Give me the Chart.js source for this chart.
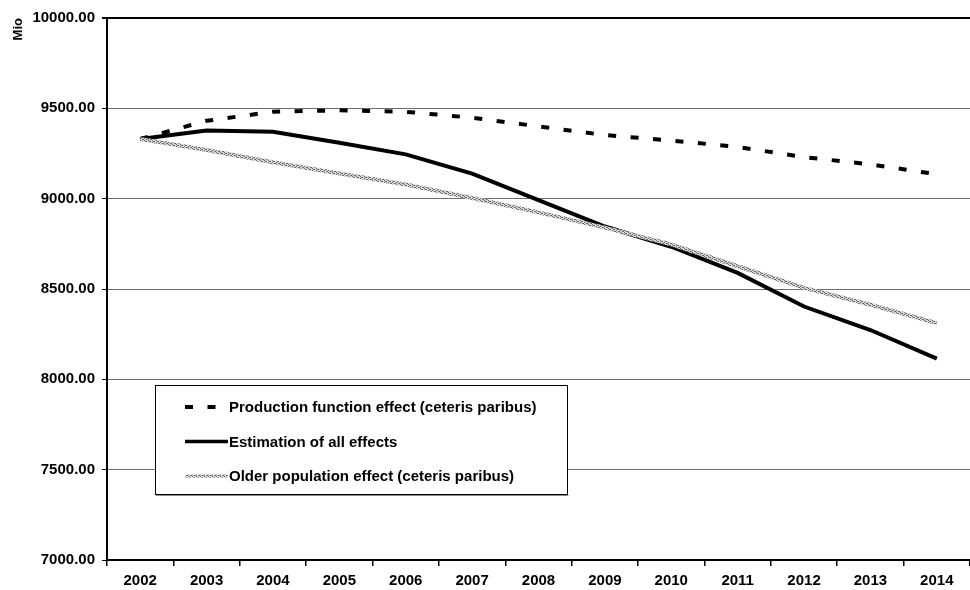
<!DOCTYPE html>
<html>
<head>
<meta charset="utf-8">
<script src="https://cdn.jsdelivr.net/npm/chart.js@4.4.1/dist/chart.umd.min.js"></script>
<style>
  html, body { margin: 0; padding: 0; background: #fff; }
  #wrap { width: 970px; height: 590px; position: relative; }
</style>
</head>
<body>
<div id="wrap"><canvas id="effectsChart"></canvas></div>
<script>
const years = ["2002", "2003", "2004", "2005", "2006", "2007", "2008", "2009", "2010", "2011", "2012", "2013", "2014"];
const productionEffect = [9330, 9431, 9481, 9489, 9481, 9448, 9400, 9352, 9322, 9286, 9230, 9190, 9135];
const allEffects = [9330, 9377, 9370, 9310, 9245, 9139, 8992, 8846, 8734, 8589, 8403, 8273, 8115];
const olderPopulation = [9330, 9269, 9202, 9139, 9078, 9004, 8924, 8840, 8747, 8626, 8506, 8413, 8311];
const yTicks = [7000, 7500, 8000, 8500, 9000, 9500, 10000];

const labelFont = { family: "'Liberation Sans', Arial, sans-serif", size: 15, weight: "bold" };

// light gray hatched stroke for the older population line
function hatchPattern() {
  const tile = document.createElement("canvas");
  tile.width = 4;
  tile.height = 4;
  const tctx = tile.getContext("2d");
  tctx.fillStyle = "#d6d6d6";
  tctx.fillRect(0, 0, 4, 4);
  tctx.fillStyle = "#6c6c6c";
  [[0, 0], [2, 1], [0, 2], [2, 3], [1, 1], [3, 3]].forEach(([x, y]) => tctx.fillRect(x, y, 1, 1));
  return tile.getContext("2d").createPattern(tile, "repeat");
}

const legendBox = {
  id: "legendBox",
  afterDatasetsDraw(chart) {
    const { ctx, chartArea } = chart;
    const left = chartArea.left + 48;
    const top = chartArea.top + 367;
    const width = 412;
    const height = 109;
    ctx.save();
    ctx.fillStyle = "#fff";
    ctx.fillRect(left, top, width, height);
    ctx.strokeStyle = "#000";
    ctx.lineWidth = 1;
    ctx.strokeRect(left + 0.5, top + 0.5, width, height);
    ctx.strokeStyle = "#8a8a8a";
    ctx.beginPath();
    ctx.moveTo(left + 1, top + height + 1.5);
    ctx.lineTo(left + width + 1.5, top + height + 1.5);
    ctx.stroke();

    ctx.font = `${labelFont.weight} ${labelFont.size}px ${labelFont.family}`;
    ctx.textBaseline = "middle";
    ctx.fillStyle = "#000";
    chart.data.datasets.forEach((dataset, index) => {
      const y = top + 22 + index * 34.5;
      ctx.strokeStyle = dataset.borderColor;
      ctx.lineWidth = dataset.legendWidth;
      ctx.setLineDash(dataset.borderDash || []);
      ctx.beginPath();
      ctx.moveTo(left + 30, y);
      ctx.lineTo(left + 73, y);
      ctx.stroke();
      ctx.setLineDash([]);
      ctx.fillText(dataset.label, left + 74, y + 1);
    });
    ctx.restore();
  }
};

new Chart(document.getElementById("effectsChart"), {
  type: "line",
  data: {
    labels: years,
    datasets: [
      { label: "Production function effect (ceteris paribus)", data: productionEffect, borderColor: "#000", borderWidth: 4, legendWidth: 4, borderDash: [8, 14.5], borderCapStyle: "butt", pointRadius: 0, tension: 0, order: 2 },
      { label: "Estimation of all effects", data: allEffects, borderColor: "#000", borderWidth: 4, legendWidth: 3.5, pointRadius: 0, tension: 0, order: 1 },
      { label: "Older population effect (ceteris paribus)", data: olderPopulation, borderColor: hatchPattern(), borderWidth: 4, legendWidth: 3, pointRadius: 0, tension: 0, order: 0 }
    ]
  },
  options: {
    responsive: true,
    maintainAspectRatio: false,
    animation: false,
    layout: { padding: { top: 18, right: 0, bottom: 0, left: 0 } },
    plugins: { legend: { display: false }, tooltip: { enabled: false } },
    scales: {
      x: {
        offset: true,
        grid: { offset: true, drawOnChartArea: false, tickLength: 6, tickColor: "#000", lineWidth: 1.5 },
        border: { color: "#000", width: 2 },
        ticks: { color: "#000", font: labelFont, padding: 6, maxRotation: 0 },
        afterFit: (scale) => { scale.width = scale.width; scale.height = 30; }
      },
      y: {
        min: 7000,
        max: 10000,
        afterBuildTicks: (scale) => { scale.ticks = yTicks.map((value) => ({ value })); },
        grid: {
          color: (context) => (context.tick && context.tick.value === 10000 ? "#000" : "#6e6e6e"),
          lineWidth: (context) => (context.tick && context.tick.value === 10000 ? 2 : 1),
          tickColor: "#000",
          tickLength: 5
        },
        border: { color: "#000", width: 2 },
        ticks: { color: "#000", font: labelFont, padding: 7, callback: (value) => Number(value).toFixed(2) },
        title: { display: true, text: "Mio", align: "end", color: "#000", font: { family: labelFont.family, size: 13, weight: "bold" }, padding: { top: 11, bottom: 0 } },
        afterFit: (scale) => { scale.width = 107; }
      }
    }
  },
  plugins: [legendBox]
});
</script>
</body>
</html>
